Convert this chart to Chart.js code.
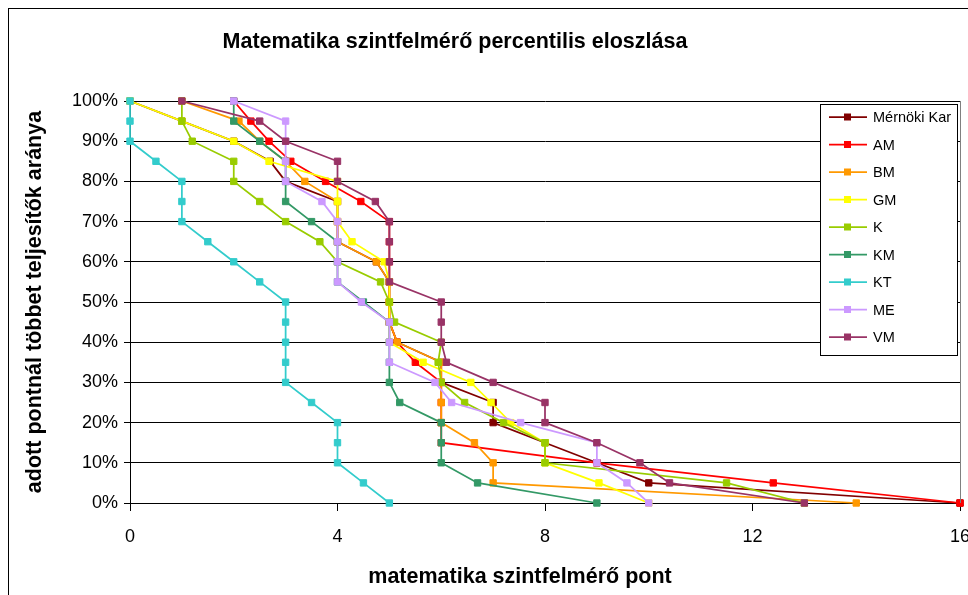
<!DOCTYPE html>
<html>
<head>
<meta charset="utf-8">
<script src="https://cdn.jsdelivr.net/npm/chart.js@4.4.0/dist/chart.umd.min.js"></script>
<style>
html, body { margin: 0; padding: 0; background: #fff; overflow: hidden; }
#wrap { position: relative; width: 1000px; height: 595px; }
#frame { position: absolute; left: 8px; top: 8px; width: 1200px; height: 1200px; border: 1px solid #000; box-sizing: border-box; pointer-events: none; }
</style>
</head>
<body>
<div id="wrap">
  <canvas id="chart" width="1000" height="595"></canvas>
  <div id="frame"></div>
</div>
<script>
// percentile levels (y) shared by every series
const levels = [100, 95, 90, 85, 80, 75, 70, 65, 60, 55, 50, 45, 40, 35, 30, 25, 20, 15, 10, 5, 0];
const xTicks = [0, 4, 8, 12, 16];

const seriesNames = ['Mérnöki Kar', 'AM', 'BM', 'GM', 'K', 'KM', 'KT', 'ME', 'VM'];
const seriesColors = ['#800000', '#ff0000', '#ff9900', '#ffff00', '#99cc00', '#339966', '#33cccc', '#cc99ff', '#993366'];

// points (x) at each level
const mernokiKar = [0, 1, 2, 2.7, 3, 4, 4, 4, 4.75, 5, 5, 5, 5.15, 6, 6, 7, 7, 8, 9, 10, 16];
const am = [2, 2.33, 2.68, 3.1, 3.77, 4.45, 5, 5, 5, 5, 5, 5, 5.15, 5.5, 6, 6, 6, 6, 9, 12.4, 16];
const bm = [1, 2.1, 2.5, 3, 3.37, 4, 4, 4, 4.75, 5, 5, 5, 5.15, 6, 6, 6, 6, 6.64, 7, 7, 14];
const gm = [0, 1, 2, 2.68, 4, 4, 4, 4.28, 4.9, 5, 5, 5, 5, 5.65, 6.57, 6.96, 7.34, 8, 8, 9.04, 10];
const k = [1, 1, 1.2, 2, 2, 2.5, 3, 3.66, 4, 4.83, 5, 5.1, 6, 5.94, 6, 6.45, 7.2, 8, 8, 11.5, 13];
const km = [2, 2, 2.5, 3, 3, 3, 3.5, 4, 4, 4, 4.5, 5, 5, 5, 5, 5.2, 6, 6, 6, 6.7, 9];
const kt = [0, 0, 0, 0.5, 1, 1, 1, 1.5, 2, 2.5, 3, 3, 3, 3, 3, 3.5, 4, 4, 4, 4.5, 5];
const me = [2, 3, 3, 3, 3, 3.7, 4, 4, 4, 4, 4.46, 5, 5, 5, 5.88, 6.2, 7.53, 9, 9, 9.58, 10];
const vm = [1, 2.5, 3, 4, 4, 4.73, 5, 5, 5, 5, 6, 6, 6, 6.1, 7, 8, 8, 9, 9.83, 10.4, 13];

const chartTitle = 'Matematika szintfelmérő percentilis eloszlása';
const xTitle = 'matematika szintfelmérő pont';
const yTitle = 'adott pontnál többet teljesítők aránya';

const FONT = '"Liberation Sans", Arial, sans-serif';
Chart.defaults.font.family = FONT;
Chart.defaults.color = '#000';

const xSeries = [mernokiKar, am, bm, gm, k, km, kt, me, vm];
const datasets = seriesNames.map((name, i) => ({
    label: name,
    data: xSeries[i].map((x, j) => ({ x: x, y: levels[j] })),
    borderColor: seriesColors[i],
    backgroundColor: seriesColors[i],
    borderWidth: 1.75,
    pointStyle: 'rect',
    pointRadius: 4.5,
    pointBorderWidth: 1,
    clip: false,
    order: seriesNames.length - i
}));

// titles, right border of the plot and the boxed legend
const extras = {
    id: 'extras',
    afterDraw(chart) {
        const ctx = chart.ctx;
        const area = chart.chartArea;
        ctx.save();
        ctx.strokeStyle = '#808080';
        ctx.lineWidth = 1;
        ctx.beginPath();
        ctx.moveTo(Math.round(area.right) + 0.5, area.top);
        ctx.lineTo(Math.round(area.right) + 0.5, area.bottom);
        ctx.stroke();

        ctx.fillStyle = '#000';
        ctx.textAlign = 'center';
        ctx.textBaseline = 'middle';
        ctx.font = 'bold 21.5px ' + FONT;
        ctx.fillText(chartTitle, 455, 42);
        ctx.fillText(xTitle, 520, 577);

        // legend
        const lx = 820, ly = 104, lw = 137, lh = 251;
        ctx.fillStyle = '#fff';
        ctx.fillRect(lx, ly, lw, lh);
        ctx.strokeStyle = '#000';
        ctx.strokeRect(lx + 0.5, ly + 0.5, lw, lh);
        ctx.font = '14.5px ' + FONT;
        ctx.textAlign = 'left';
        chart.data.datasets.forEach((ds, i) => {
            const y = 117 + i * 27.5;
            ctx.strokeStyle = ds.borderColor;
            ctx.lineWidth = 1.75;
            ctx.beginPath();
            ctx.moveTo(829, y);
            ctx.lineTo(867, y);
            ctx.stroke();
            ctx.fillStyle = ds.backgroundColor;
            ctx.fillRect(844, y - 3.5, 7, 7);
            ctx.fillStyle = '#000';
            ctx.fillText(ds.label, 873, y + 1);
        });
        ctx.restore();
    }
};

new Chart(document.getElementById('chart'), {
    type: 'line',
    data: { datasets: datasets },
    options: {
        responsive: false,
        animation: false,
        layout: { padding: { top: 101, right: 40, left: 0, bottom: 0 } },
        plugins: {
            legend: { display: false },
            tooltip: { enabled: false },
            title: { display: false }
        },
        scales: {
            x: {
                type: 'linear',
                min: 0,
                max: 16,
                afterBuildTicks: (s) => { s.ticks = xTicks.map(v => ({ value: v })); },
                ticks: { font: { size: 18 }, padding: 15, color: '#000' },
                grid: { drawOnChartArea: false, drawTicks: true, tickLength: 8, color: '#000' },
                border: { color: '#000' },
                afterFit: (s) => { s.height = 92; }
            },
            y: {
                min: 0,
                max: 100,
                ticks: { stepSize: 10, font: { size: 18 }, padding: 6, color: '#000', callback: v => v + '%' },
                grid: { color: '#000', tickLength: 6 },
                border: { color: '#000' },
                title: { display: true, text: yTitle, font: { size: 21.5, weight: 'bold' }, color: '#000', padding: { top: 22, bottom: 0 } },
                afterFit: (s) => { s.width = 130; }
            }
        }
    },
    plugins: [extras]
});
</script>
</body>
</html>
